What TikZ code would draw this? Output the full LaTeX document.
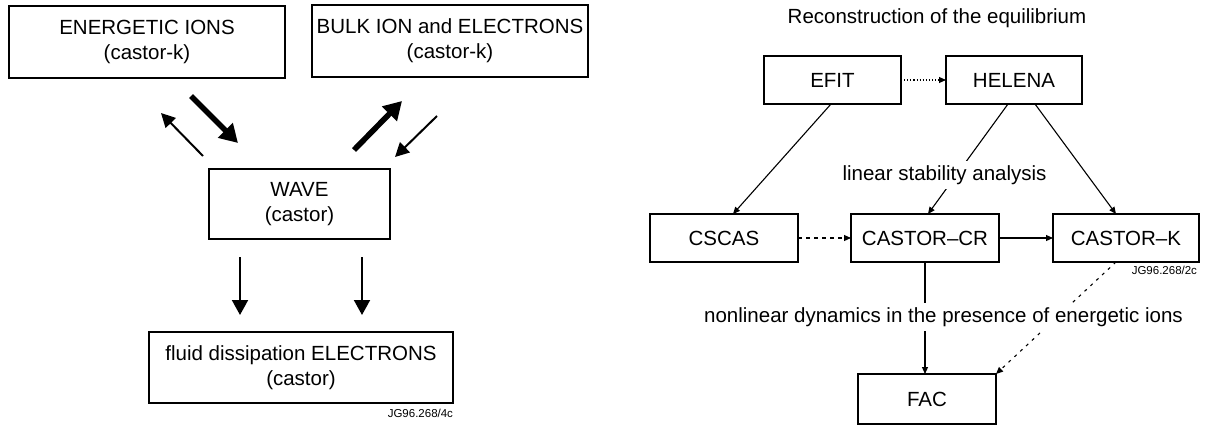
\documentclass[tikz,border=0pt]{standalone}
\usepackage{fontspec}
\setmainfont{Liberation Sans}
\usetikzlibrary{arrows.meta}

\begin{document}
\begin{tikzpicture}[x=0.5pt, y=-0.5pt, inner sep=0, outer sep=0,
    box/.style={rectangle, draw=black, line width=0.65pt, align=center,
      font=\fontsize{10.25}{12.5}\selectfont},
    heavy/.style={line width=2.8pt, -{Triangle[width=10pt,length=9pt]}},
    light/.style={line width=1pt, -{Triangle[width=7pt,length=7pt]}},
    fall/.style={line width=1pt, -{Triangle[width=8pt,length=7.5pt]}},
    link/.style={line width=0.55pt, -{Triangle[width=3pt,length=3.5pt]}},
    lbl/.style={fill=white, inner sep=2pt, font=\fontsize{10.25}{12.5}\selectfont},
    tag/.style={font=\fontsize{5.75}{6}\selectfont}]
  \useasboundingbox (0,0) rectangle (1207,428);

  % left: energy flow between the species
  \node[box, minimum width=138pt, minimum height=36pt] (ions) at (147,42)
    {ENERGETIC IONS\\(castor-k)};
  \node[box, minimum width=138pt, minimum height=36pt] (bulk) at (450,41)
    {BULK ION and ELECTRONS\\(castor-k)};
  \node[box, minimum width=90.5pt, minimum height=35pt] (wave) at (299.5,204)
    {WAVE\\(castor)};
  \node[box, minimum width=152pt, minimum height=35.5pt] (fluid) at (301,367.5)
    {fluid dissipation ELECTRONS\\(castor)};
  \node[tag, anchor=east] (tag4c) at (453,413) {JG96.268/4c};

  \coordinate (wi0) at (203,156);
  \coordinate (wi1) at (161,113);
  \coordinate (iw0) at (191,96);
  \coordinate (iw1) at (238,143);
  \coordinate (wb0) at (354,150);
  \coordinate (wb1) at (402,101);
  \coordinate (bw0) at (437,116);
  \coordinate (bw1) at (395,157);
  \draw[light] (wi0) -- (wi1);
  \draw[heavy] (iw0) -- (iw1);
  \draw[heavy] (wb0) -- (wb1);
  \draw[light] (bw0) -- (bw1);

  \coordinate (wf1) at ([shift={(-59.5,18)}]wave.south);
  \coordinate (wf2) at ([shift={(62.5,18)}]wave.south);
  \draw[fall] (wf1) -- ([shift={(0,-17)}]wf1 |- fluid.north);
  \draw[fall] (wf2) -- ([shift={(0,-17)}]wf2 |- fluid.north);

  % right: chain of codes
  \node[lbl, fill=none] (title) at (937,18) {Reconstruction of the equilibrium};
  \node[box, minimum width=68.5pt, minimum height=24pt] (efit) at (832.5,80) {EFIT};
  \node[box, minimum width=68pt, minimum height=24pt] (helena) at (1014,80) {HELENA};
  \node[box, minimum width=74pt, minimum height=24pt] (cscas) at (724,238) {CSCAS};
  \node[box, minimum width=74pt, minimum height=24pt] (castorcr) at (925,238) {CASTOR--CR};
  \node[box, minimum width=73pt, minimum height=24pt] (castork) at (1126,238) {CASTOR--K};
  \node[box, minimum width=69pt, minimum height=25pt] (fac) at (927,399) {FAC};
  \node[tag, anchor=east] (tag2c) at (1197,270) {JG96.268/2c};

  \draw[link, densely dotted] (efit.east) -- (helena.west);
  \draw[link] ([shift={(-1.5,0)}]efit.south) -- ([shift={(9,0)}]cscas.north);
  \draw[link] ([shift={(-6,0)}]helena.south) -- ([shift={(3,0)}]castorcr.north);
  \draw[link] ([shift={(21,0)}]helena.south) -- ([shift={(-10,0)}]castork.north);
  \draw[link, dash pattern=on 2pt off 2pt] (cscas.east) -- (castorcr.west);
  \draw[link] (castorcr.east) -- (castork.west);
  \draw[link] (castorcr.south) -- (castorcr.south |- fac.north);
  \draw[link, dash pattern=on 1.5pt off 2.5pt] ([shift={(-10,0)}]castork.south) -- (fac.north east);

  \node[lbl] (linlbl) at (944.5,175) {linear stability analysis};
  \node[lbl] (nonlbl) at (943.5,317) {nonlinear dynamics in the presence of energetic ions};
\end{tikzpicture}
\end{document}
